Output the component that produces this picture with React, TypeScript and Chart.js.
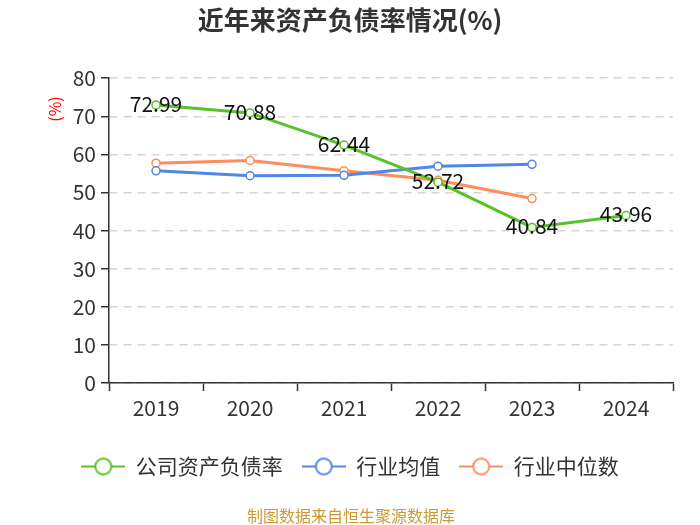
import React, { useEffect, useRef } from "react";
import { Chart, registerables } from "chart.js";

Chart.register(...registerables);

const years = ["2019", "2020", "2021", "2022", "2023", "2024"];
const companyRatio = [72.99, 70.88, 62.44, 52.72, 40.84, 43.96];
const industryAvg = [55.7, 54.4, 54.5, 56.9, 57.4, null];
const industryMedian = [57.7, 58.4, 55.7, 53.2, 48.4, null];
const seriesNames = ["公司资产负债率", "行业均值", "行业中位数"];
const seriesColors = ["#58C22A", "#4F86E8", "#FF8C5A"];
const titleText = "近年来资产负债率情况(%)";
const unitText = "(%)";
const sourceText = "制图数据来自恒生聚源数据库";

const FONT = "'Noto Sans CJK SC', 'Noto Sans', sans-serif";

function makeIcon(color: string): HTMLCanvasElement {
  const c = document.createElement("canvas");
  c.width = 44;
  c.height = 20;
  const ctx = c.getContext("2d")!;
  ctx.strokeStyle = color;
  ctx.lineWidth = 2;
  ctx.beginPath();
  ctx.moveTo(0, 10);
  ctx.lineTo(44, 10);
  ctx.stroke();
  ctx.beginPath();
  ctx.arc(22, 10, 8, 0, Math.PI * 2);
  ctx.fillStyle = "#fff";
  ctx.fill();
  ctx.stroke();
  return c;
}

export default function App() {
  const ref = useRef<HTMLCanvasElement | null>(null);

  useEffect(() => {
    if (!ref.current) return;
    const icons = seriesColors.map(makeIcon);

    const labelPlugin = {
      id: "valueLabels",
      afterDatasetsDraw(chart: any) {
        const ctx = chart.ctx;
        const meta = chart.getDatasetMeta(0);
        ctx.save();
        ctx.font = `21px ${FONT}`;
        ctx.fillStyle = "#111";
        ctx.textAlign = "center";
        ctx.textBaseline = "middle";
        meta.data.forEach((pt: any, i: number) => {
          const v = companyRatio[i];
          if (v == null) return;
          ctx.fillText(v.toFixed(2), pt.x, pt.y - 1);
        });
        ctx.restore();
      },
      afterDraw(chart: any) {
        const ctx = chart.ctx;
        ctx.save();
        ctx.font = `16px ${FONT}`;
        ctx.fillStyle = "#FF0000";
        ctx.textAlign = "center";
        ctx.textBaseline = "middle";
        ctx.translate(55, 109);
        ctx.rotate(-Math.PI / 2);
        ctx.fillText(unitText, 0, 0);
        ctx.restore();
        ctx.save();
        ctx.font = `16px ${FONT}`;
        ctx.fillStyle = "#CC9933";
        ctx.textAlign = "center";
        ctx.textBaseline = "middle";
        ctx.fillText(sourceText, 351, 516);
        ctx.restore();
      },
    };

    const datasets = [companyRatio, industryAvg, industryMedian].map((d, i) => ({
      label: seriesNames[i],
      data: d,
      borderColor: seriesColors[i],
      backgroundColor: seriesColors[i],
      borderWidth: 3,
      pointRadius: 4,
      pointBorderWidth: 1.5,
      pointBackgroundColor: "#fff",
      pointBorderColor: seriesColors[i],
      tension: 0,
      spanGaps: false,
    }));

    const chart = new Chart(ref.current, {
      type: "line",
      data: { labels: years, datasets },
      options: {
        responsive: false,
        animation: false,
        layout: { padding: { left: 27, right: 27, top: 0, bottom: 38 } },
        plugins: {
          title: {
            display: true,
            text: titleText,
            color: "#333",
            font: { size: 26, weight: "bold", family: FONT },
            padding: { top: 5, bottom: 42 },
          },
          legend: {
            display: true,
            position: "bottom",
            labels: {
              usePointStyle: true,
              pointStyleWidth: 44,
              padding: 19,
              color: "#333",
              font: { size: 21, family: FONT },
              generateLabels(c: any) {
                const items = (Chart.defaults.plugins.legend.labels as any).generateLabels(c);
                items.forEach((it: any, i: number) => {
                  it.pointStyle = icons[i];
                });
                return items;
              },
            },
          },
          tooltip: { enabled: false },
        },
        scales: {
          x: {
            offset: true,
            grid: {
              display: true,
              drawOnChartArea: false,
              offset: true,
              tickLength: 8,
              tickColor: "#333",
              tickWidth: 1.5,
            },
            border: { color: "#333", width: 1.5 },
            ticks: {
              color: "#333",
              padding: 4,
              font: { size: 21, family: FONT },
            },
            afterFit(scale: any) {
              scale.height = 54;
            },
          },
          y: {
            min: 0,
            max: 80,
            ticks: {
              stepSize: 10,
              color: "#333",
              padding: 5,
              font: { size: 21, family: FONT },
            },
            grid: {
              color: "#d5d5d5",
              lineWidth: 1.5,
              tickLength: 8,
              tickColor: "#333",
              tickWidth: 1.5,
            },
            border: { color: "#333", width: 1.5, dash: [8, 6] },
            afterFit(scale: any) {
              scale.width = 82;
            },
          },
        },
      },
      plugins: [labelPlugin],
    });

    return () => chart.destroy();
  }, []);

  return (
    <div style={{ position: "absolute", left: 0, top: 0, width: 700, height: 525, background: "#fff" }}>
      <canvas ref={ref} width={700} height={525} style={{ display: "block" }} />
    </div>
  );
}
